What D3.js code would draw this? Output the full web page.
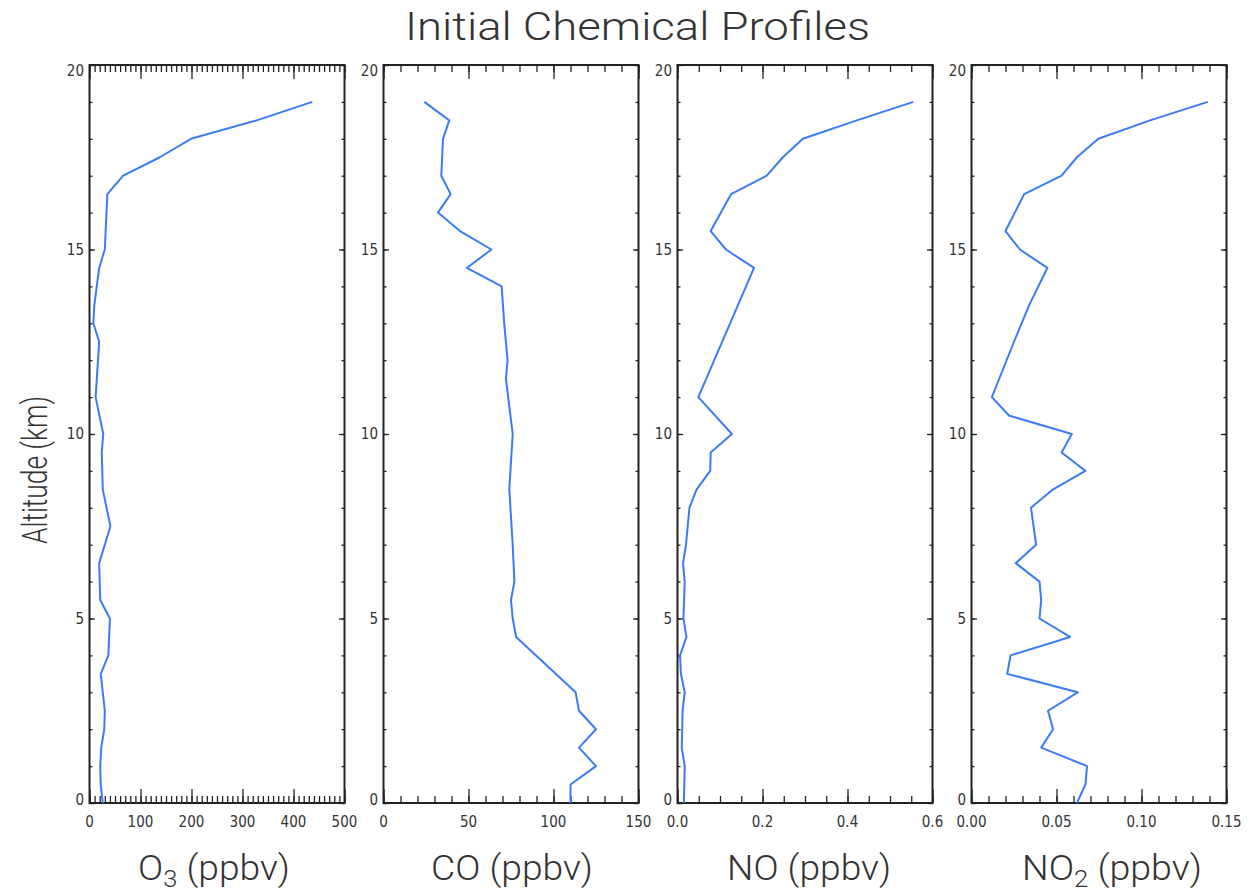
<!DOCTYPE html>
<html>
<head>
<meta charset="utf-8">
<script src="https://cdn.jsdelivr.net/npm/d3@7"></script>
<style>
  html, body { margin: 0; padding: 0; background: #fff; }
  svg { display: block; }
  .tick-label { font-family: "DejaVu Sans Condensed", "DejaVu Sans", sans-serif; font-stretch: condensed; font-size: 15px; fill: #333; }
  .thin { font-family: "Roboto", "DejaVu Sans", sans-serif; font-weight: 300; fill: #333; }
</style>
</head>
<body>
<script>
// Altitude grid (km) and mixing ratios (ppbv) for each species
const altO3 = [0, 0.5, 1, 1.5, 2, 2.5, 3.5, 4, 5, 5.5, 6.5, 7.5, 8.5, 9.5, 10, 11, 12.5, 13, 13.5, 14.5, 15, 16.5, 17, 17.5, 18, 18.5, 19];
const o3    = [26, 22, 21, 23, 29, 30, 22, 37, 40, 21, 19, 41, 26, 24, 27, 12, 19, 7.5, 9.5, 19, 30, 35, 66, 138, 199, 328, 437];

const altCO = [0, 0.5, 1, 1.5, 2, 2.5, 3, 4.5, 5, 5.5, 6, 7, 8.5, 10, 11.5, 12, 13, 14, 14.5, 15, 15.5, 16, 16.5, 17, 18, 18.5, 19];
const co    = [110, 110, 125, 115, 125, 115, 113, 78, 76, 75, 77, 76, 74, 76, 72, 73, 71, 69.5, 49, 63.5, 45, 32, 39.5, 34, 35, 38.7, 24];

const altNO = [0, 1, 1.5, 2.5, 3, 3.5, 4, 4.5, 5, 6, 6.5, 7, 8, 8.5, 9, 9.5, 10, 11, 14.5, 15, 15.5, 16.5, 17, 17.5, 18, 18.5, 19];
const no    = [0.015, 0.017, 0.010, 0.012, 0.017, 0.008, 0.006, 0.021, 0.014, 0.017, 0.013, 0.020, 0.028, 0.045, 0.077, 0.078, 0.128, 0.049, 0.180, 0.114, 0.078, 0.126, 0.210, 0.248, 0.295, 0.422, 0.555];

const altNO2 = [0, 0.5, 1, 1.5, 2, 2.5, 3, 3.5, 4, 4.5, 5, 5.5, 6, 6.5, 7, 8, 8.5, 9, 9.5, 10, 10.5, 11, 12.5, 13.5, 14.5, 15, 15.5, 16.5, 17, 17.5, 18, 18.5, 19];
const no2    = [0.062, 0.067, 0.068, 0.041, 0.048, 0.045, 0.0625, 0.021, 0.023, 0.058, 0.040, 0.041, 0.040, 0.026, 0.038, 0.035, 0.048, 0.067, 0.053, 0.059, 0.022, 0.012, 0.025, 0.034, 0.0446, 0.0285, 0.020, 0.031, 0.053, 0.062, 0.0746, 0.105, 0.139];

// Axis ranges and tick values
const altTicks = [0, 5, 10, 15, 20];
const altMinor = d3.range(0, 21, 1);

const panels = [
  { alt: altO3,  vals: o3,  domain: [0, 500],  major: [0, 100, 200, 300, 400, 500], minorStep: 10,   fmt: d3.format("d"),
    name: "O", sub: "3", titleCenter: 214, titleWidth: 152 },
  { alt: altCO,  vals: co,  domain: [0, 150],  major: [0, 50, 100, 150],            minorStep: 10,   fmt: d3.format("d"),
    name: "CO", sub: "",  titleCenter: 512, titleWidth: 162 },
  { alt: altNO,  vals: no,  domain: [0, 0.6],  major: [0, 0.2, 0.4, 0.6],           minorStep: 0.05, fmt: d3.format(".1f"),
    name: "NO", sub: "",  titleCenter: 809, titleWidth: 164 },
  { alt: altNO2, vals: no2, domain: [0, 0.15], major: [0, 0.05, 0.10, 0.15],        minorStep: 0.01, fmt: d3.format(".2f"),
    name: "NO", sub: "2", titleCenter: 1112, titleWidth: 180 }
];

const W = 1254, H = 894;
const plotTop = 65, plotBottom = 803, panelW = 255, firstLeft = 89.5, gap = 294;
const lineColor = "#3b7cf6", frameColor = "#222";

const svg = d3.select("body").append("svg").attr("width", W).attr("height", H);
svg.append("rect").attr("width", W).attr("height", H).attr("fill", "#fff");

const y = d3.scaleLinear().domain([0, 20]).range([plotBottom, plotTop]);

panels.forEach((p, i) => {
  const left = firstLeft + i * gap;
  const right = left + panelW;
  const x = d3.scaleLinear().domain(p.domain).range([left, right]);
  const g = svg.append("g");

  const n = Math.round((p.domain[1] - p.domain[0]) / p.minorStep);
  const minor = d3.range(0, n + 1).map(k => p.domain[0] + k * p.minorStep);

  const styleAxis = sel => {
    sel.select(".domain").remove();
    sel.selectAll("line").attr("stroke", frameColor).attr("stroke-width", 1.3);
    sel.selectAll("text").remove();
  };

  // x axes: bottom and top, ticks pointing inward
  g.append("g").attr("transform", `translate(0,${plotBottom})`)
    .call(d3.axisBottom(x).tickValues(minor).tickSize(-7)).call(styleAxis);
  g.append("g").attr("transform", `translate(0,${plotBottom})`)
    .call(d3.axisBottom(x).tickValues(p.major).tickSize(-14)).call(styleAxis);
  g.append("g").attr("transform", `translate(0,${plotTop})`)
    .call(d3.axisTop(x).tickValues(minor).tickSize(-7)).call(styleAxis);
  g.append("g").attr("transform", `translate(0,${plotTop})`)
    .call(d3.axisTop(x).tickValues(p.major).tickSize(-14)).call(styleAxis);

  // y axes: left and right
  g.append("g").attr("transform", `translate(${left},0)`)
    .call(d3.axisLeft(y).tickValues(altMinor).tickSize(-3)).call(styleAxis);
  g.append("g").attr("transform", `translate(${left},0)`)
    .call(d3.axisLeft(y).tickValues(altTicks).tickSize(-5.5)).call(styleAxis);
  g.append("g").attr("transform", `translate(${right},0)`)
    .call(d3.axisRight(y).tickValues(altMinor).tickSize(-3)).call(styleAxis);
  g.append("g").attr("transform", `translate(${right},0)`)
    .call(d3.axisRight(y).tickValues(altTicks).tickSize(-5.5)).call(styleAxis);

  // frame
  g.append("rect").attr("x", left).attr("y", plotTop).attr("width", panelW).attr("height", plotBottom - plotTop)
    .attr("fill", "none").attr("stroke", frameColor).attr("stroke-width", 2);

  // y tick labels (end labels kept inside the frame)
  g.selectAll(".ylab").data(altTicks).join("text")
    .attr("class", "tick-label")
    .attr("x", left - 5.5)
    .attr("y", d => Math.min(Math.max(y(d), plotTop + 5.5), plotBottom - 3.5))
    .attr("dy", "0.36em")
    .attr("text-anchor", "end")
    .text(d => d);

  // x tick labels
  g.selectAll(".xlab").data(p.major).join("text")
    .attr("class", "tick-label")
    .attr("x", d => x(d))
    .attr("y", 827)
    .attr("text-anchor", "middle")
    .text(d => p.fmt(d));

  // profile line
  const pts = p.alt.map((a, k) => [p.vals[k], a]);
  g.append("path").datum(pts)
    .attr("fill", "none").attr("stroke", lineColor).attr("stroke-width", 2)
    .attr("stroke-linejoin", "round")
    .attr("d", d3.line().x(d => x(d[0])).y(d => y(d[1])));

  // x axis title
  const t = g.append("text").attr("class", "thin")
    .attr("x", p.titleCenter).attr("y", 880)
    .attr("text-anchor", "middle").attr("font-size", 35)
    .attr("textLength", p.titleWidth).attr("lengthAdjust", "spacingAndGlyphs");
  t.append("tspan").text(p.name);
  if (p.sub) {
    t.append("tspan").attr("font-size", 24).attr("dy", 7).text(p.sub);
    t.append("tspan").attr("dy", -7).text(" (ppbv)");
  } else {
    t.append("tspan").text(" (ppbv)");
  }
});

// y axis title
svg.append("text").attr("class", "thin")
  .attr("transform", "translate(47,470) rotate(-90)")
  .attr("text-anchor", "middle").attr("font-size", 35)
  .attr("textLength", 148).attr("lengthAdjust", "spacingAndGlyphs")
  .text("Altitude (km)");

// chart title
svg.append("text").attr("class", "thin")
  .attr("x", 637.5).attr("y", 40)
  .attr("text-anchor", "middle").attr("font-size", 38)
  .attr("textLength", 465).attr("lengthAdjust", "spacingAndGlyphs")
  .text("Initial Chemical Profiles");
</script>
</body>
</html>
